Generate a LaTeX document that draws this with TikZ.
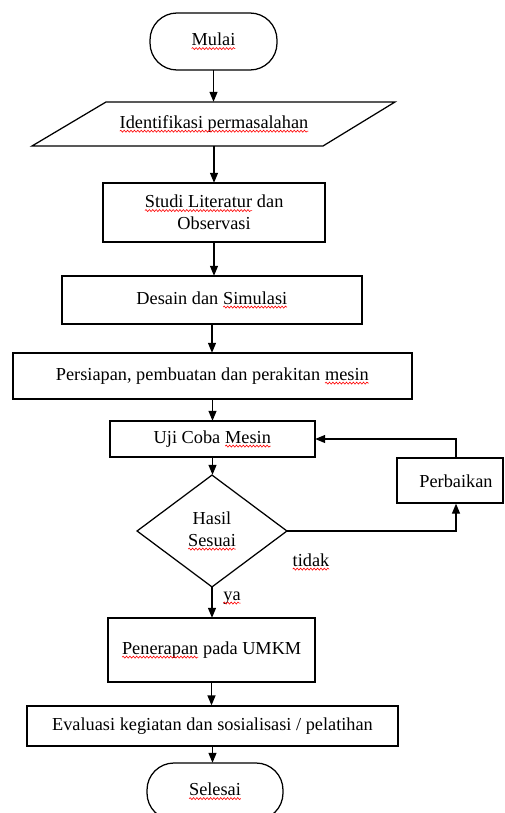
\documentclass[tikz,border=0pt]{standalone}
\usepackage{fontspec}
\setmainfont{Liberation Serif}
\usetikzlibrary{arrows.meta,shapes.geometric,decorations.pathmorphing}
\tikzset{
  sqinner/.style={rectangle, draw=none, fill=none, minimum width=0pt, minimum height=0pt,
    inner sep=0pt, outer sep=0pt, sharp corners, anchor=center, align=left},
  sqline/.style={draw=red, line width=0.6pt, sharp corners, decorate,
    decoration={snake, amplitude=1pt, segment length=3.4pt}}
}
\newcommand\sq[1]{\tikz[baseline=(sqw.base), x=1cm, y=1cm]{\node[sqinner] (sqw) {#1};
  \path[sqline] ([yshift=-2.8pt]sqw.base west) -- ([yshift=-2.8pt]sqw.base east);}}
\begin{document}
\begin{tikzpicture}[x=1pt,y=-1pt, line width=1.25pt,
  font=\fontsize{18.3}{22}\selectfont,
  box/.style={draw, rectangle, inner sep=0pt, align=center},
  term/.style={draw, rectangle, rounded corners=27pt, inner sep=0pt},
  arr/.style={-{Triangle[length=10pt,width=8pt]}}]
\clip (0,0) rectangle (504,813);
% nodes
\node[term, minimum width=127pt, minimum height=57pt] (mulai) at (213.5,41.5) {\sq{Mulai}};
\node[inner sep=0pt, minimum width=290pt, minimum height=44pt] (ident) at (214,124) {\sq{Identifikasi permasalahan}};
\draw (106,102) -- (395,102) -- (323,146) -- (32,146) -- cycle;
\node[box, minimum width=222pt, minimum height=59pt] (studi) at (214,212.5) {\sq{Studi Literatur} dan\\Observasi};
\node[box, minimum width=300pt, minimum height=48pt] (desain) at (212,300) {Desain dan \sq{Simulasi}};
\node[box, minimum width=399pt, minimum height=46pt] (persiapan) at (212.5,376) {Persiapan, pembuatan dan perakitan \sq{mesin}};
\node[box, minimum width=205pt, minimum height=36pt] (uji) at (212.5,439) {Uji Coba \sq{Mesin}};
\node[draw, diamond, aspect=1.34, minimum width=150pt, minimum height=112pt, inner sep=0pt, align=center] (hasil) at (212,531) {Hasil\\\sq{Sesuai}};
\node[box, minimum width=106pt, minimum height=45pt] (perb) at (450,480.5) {};
\node[inner sep=0pt] (perbt) at (456,481) {Perbaikan};
\node[box, minimum width=207pt, minimum height=64pt] (pener) at (211.5,650) {\sq{Penerapan} pada UMKM};
\node[box, minimum width=371pt, minimum height=40pt] (eval) at (212.5,726) {Evaluasi kegiatan dan sosialisasi / pelatihan};
\node[term, minimum width=136pt, minimum height=57pt] (selesai) at (215,791.5) {\sq{Selesai}};
\node[inner sep=0pt] (tidak) at (311,562) {\sq{tidak}};
\node[inner sep=0pt] (ya) at (232,598) {\sq{ya}};
% connectors
\draw[arr] (mulai.south) -- (mulai.south |- ident.north);
\draw[arr] (ident.south) -- (ident.south |- studi.north);
\draw[arr] (studi.south) -- (studi.south |- desain.north);
\draw[arr] (desain.south) -- (desain.south |- persiapan.north);
\draw[arr] (persiapan.south) -- (persiapan.south |- uji.north);
\draw[arr] (uji.south) -- (uji.south |- hasil.north);
\draw[arr] (hasil.south) -- (hasil.south |- pener.north);
\draw[arr] (pener.south) -- (pener.south |- eval.north);
\draw[arr] (eval.south) -- (eval.south |- selesai.north);
\draw[arr] (hasil.east) -| (perbt.center |- perb.south);
\draw[arr] (perbt.center |- perb.north) |- (uji.east);
\end{tikzpicture}
\end{document}
